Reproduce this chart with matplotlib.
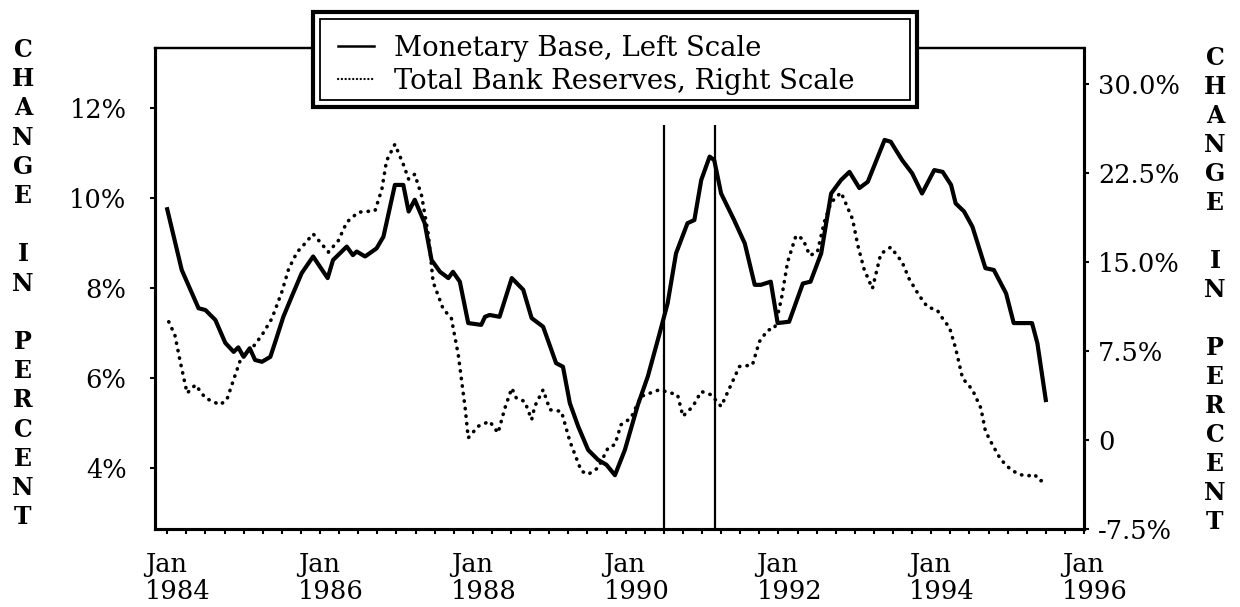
import matplotlib
matplotlib.use("Agg")
import matplotlib.pyplot as plt
from matplotlib.lines import Line2D
from matplotlib.patches import Rectangle
from matplotlib.transforms import ScaledTranslation

# Monetary base, % change (left scale)
base_t = [1984.00, 1984.19, 1984.41, 1984.50, 1984.63, 1984.76, 1984.87, 1984.93, 1985.00, 1985.08,
          1985.15, 1985.24, 1985.35, 1985.41, 1985.52, 1985.63, 1985.76, 1985.91, 1986.00, 1986.10,
          1986.17, 1986.35, 1986.43, 1986.48, 1986.59, 1986.74, 1986.83, 1986.98, 1987.09, 1987.16,
          1987.24, 1987.37, 1987.46, 1987.57, 1987.68, 1987.74, 1987.83, 1987.94, 1988.11, 1988.16,
          1988.22, 1988.35, 1988.51, 1988.66, 1988.77, 1988.92, 1989.09, 1989.18, 1989.27, 1989.38,
          1989.51, 1989.64, 1989.75, 1989.86, 1989.99, 1990.16, 1990.29, 1990.44, 1990.55, 1990.66,
          1990.81, 1990.90, 1990.99, 1991.10, 1991.16, 1991.25, 1991.42, 1991.56, 1991.69, 1991.77,
          1991.90, 1991.99, 1992.14, 1992.21, 1992.32, 1992.42, 1992.56, 1992.69, 1992.82, 1992.93,
          1993.06, 1993.17, 1993.39, 1993.47, 1993.62, 1993.75, 1993.88, 1994.04, 1994.15, 1994.26,
          1994.32, 1994.43, 1994.54, 1994.71, 1994.82, 1994.98, 1995.08, 1995.32, 1995.39, 1995.50]
base_v = [9.75, 8.40, 7.55, 7.51, 7.29, 6.78, 6.58, 6.68, 6.47, 6.66,
          6.40, 6.36, 6.47, 6.78, 7.36, 7.81, 8.33, 8.70, 8.47, 8.22,
          8.62, 8.92, 8.73, 8.81, 8.70, 8.88, 9.14, 10.29, 10.29, 9.70,
          9.96, 9.44, 8.62, 8.36, 8.22, 8.36, 8.14, 7.22, 7.18, 7.36,
          7.40, 7.36, 8.22, 7.96, 7.33, 7.14, 6.33, 6.25, 5.44, 4.92,
          4.40, 4.18, 4.07, 3.84, 4.40, 5.40, 6.03, 6.96, 7.66, 8.77,
          9.44, 9.51, 10.40, 10.92, 10.84, 10.10, 9.51, 8.99, 8.07, 8.07,
          8.14, 7.22, 7.25, 7.58, 8.10, 8.14, 8.77, 10.10, 10.40, 10.58,
          10.22, 10.36, 11.29, 11.25, 10.84, 10.55, 10.10, 10.62, 10.58, 10.29,
          9.88, 9.70, 9.36, 8.44, 8.40, 7.88, 7.22, 7.22, 6.77, 5.51]

# Total bank reserves, % change (right scale)
res_t = [1984.02, 1984.10, 1984.17, 1984.26, 1984.37, 1984.50, 1984.69, 1984.78, 1984.89, 1984.98,
         1985.11, 1985.24, 1985.37, 1985.50, 1985.59, 1985.70, 1985.78, 1985.91, 1986.02, 1986.11,
         1986.24, 1986.35, 1986.50, 1986.72, 1986.81, 1986.87, 1986.98, 1987.09, 1987.16, 1987.24,
         1987.33, 1987.42, 1987.48, 1987.61, 1987.72, 1987.81, 1987.90, 1987.94, 1988.07, 1988.22,
         1988.33, 1988.42, 1988.51, 1988.57, 1988.68, 1988.77, 1988.81, 1988.92, 1989.01, 1989.16,
         1989.27, 1989.42, 1989.51, 1989.64, 1989.77, 1989.86, 1989.94, 1990.07, 1990.20, 1990.44,
         1990.60, 1990.68, 1990.75, 1990.88, 1990.99, 1991.12, 1991.25, 1991.36, 1991.49, 1991.66,
         1991.75, 1991.86, 1991.95, 1992.04, 1992.12, 1992.23, 1992.32, 1992.41, 1992.51, 1992.60,
         1992.69, 1992.82, 1992.97, 1993.04, 1993.12, 1993.23, 1993.34, 1993.47, 1993.62, 1993.71,
         1993.84, 1993.95, 1994.08, 1994.15, 1994.24, 1994.32, 1994.41, 1994.54, 1994.65, 1994.71,
         1994.80, 1994.91, 1995.04, 1995.15, 1995.26, 1995.35, 1995.43, 1995.52]
res_v = [9.95, 8.83, 6.60, 3.94, 4.64, 3.52, 2.96, 3.38, 5.47, 7.15,
         7.71, 8.83, 10.22, 12.46, 14.41, 15.81, 16.37, 17.35, 16.51, 15.81,
         16.79, 18.33, 19.17, 19.30, 21.12, 23.49, 24.89, 23.21, 21.96, 22.37,
         20.56, 17.20, 13.30, 11.06, 10.22, 7.15, 2.68, 0.17, 1.15, 1.57,
         0.59, 2.68, 4.36, 3.52, 3.24, 1.70, 2.82, 4.22, 2.54, 2.40,
         -0.11, -2.62, -2.90, -2.35, -0.67, -0.39, 1.28, 1.84, 3.66, 4.22,
         3.94, 3.80, 1.99, 2.82, 4.08, 3.80, 2.82, 4.36, 6.18, 6.31,
         8.27, 9.24, 9.39, 11.90, 14.97, 17.20, 16.93, 15.53, 15.81, 18.33,
         20.00, 20.84, 18.60, 16.37, 14.41, 12.74, 15.67, 16.23, 14.97, 13.58,
         12.18, 11.20, 10.92, 10.22, 9.45, 7.71, 5.20, 4.22, 2.68, 0.73,
         -0.39, -1.65, -2.49, -2.90, -3.04, -2.90, -3.46, -3.18]

left_ticks = [4, 6, 8, 10, 12]
left_labels = ['4%', '6%', '8%', '10%', '12%']
right_ticks = [-7.5, 0, 7.5, 15, 22.5, 30]
right_labels = ['-7.5%', '0', '7.5%', '15.0%', '22.5%', '30.0%']
year_ticks = [1984, 1986, 1988, 1990, 1992, 1994, 1996]
year_labels = ['Jan\n1984', 'Jan\n1986', 'Jan\n1988', 'Jan\n1990', 'Jan\n1992', 'Jan\n1994', 'Jan\n1996']
quarter_ticks = [1984 + 0.25 * i for i in range(49)]
recession = [1990.5, 1991.17]
side_text = 'CHANGE IN PERCENT'
legend_labels = ['Monetary Base, Left Scale', 'Total Bank Reserves, Right Scale']

plt.rcParams['font.family'] = 'DejaVu Serif'
W, H = 1240, 607
fs = 18.5

fig = plt.figure(figsize=(W / 100, H / 100), dpi=100)
ax = fig.add_axes([155 / W, 1 - 529 / H, (1084 - 155) / W, (529 - 48) / H])
ax2 = ax.twinx()

ax.plot(base_t, base_v, color='black', lw=3.0, solid_joinstyle='round')
ax2.plot(res_t, res_v, color='black', lw=2.6, linestyle=(0, (0.1, 2.0)),
         dash_capstyle='round')

ax.set_xlim(1983.84, 1996.0)
ax.set_ylim(2.644, 13.333)
ax2.set_ylim(-7.45, 33.0)
ax.vlines(recession, 2.644, 11.62, color='black', lw=1.6)

ax.set_xticks(year_ticks)
ax.set_xticklabels(year_labels, ha='left', multialignment='left', linespacing=1.1)
ax.set_xticks(quarter_ticks, minor=True)
ax.set_yticks(left_ticks)
ax.set_yticklabels(left_labels)
ax2.set_yticks(right_ticks)
ax2.set_yticklabels(right_labels)

ax.tick_params(axis='x', which='both', length=3.5, width=1.5, labelsize=fs, pad=13)
ax.tick_params(axis='y', length=3.5, width=1.5, labelsize=fs, pad=17)
ax2.tick_params(axis='y', length=3.5, width=1.5, labelsize=fs, pad=6.5)

shift = ScaledTranslation(-22 / 100, 0, fig.dpi_scale_trans)
for lbl in ax.get_xticklabels():
    lbl.set_transform(lbl.get_transform() + shift)

for a in (ax, ax2):
    for side in ('left', 'right', 'bottom'):
        a.spines[side].set_linewidth(2.2)
    a.spines['top'].set_linewidth(1.6)

# stacked letters on both sides
for i, ch in enumerate(side_text):
    if ch == ' ':
        continue
    fig.text(23 / W, 1 - (50 + i * 29.2) / H, ch, ha='center', va='center',
             fontsize=17, fontweight='bold')
    fig.text(1215 / W, 1 - (58 + i * 29.0) / H, ch, ha='center', va='center',
             fontsize=17, fontweight='bold')

# double-ruled legend box
fig.add_artist(Rectangle((313 / W, 1 - 107 / H), (917 - 313) / W, (107 - 12) / H,
                         transform=fig.transFigure, facecolor='white', edgecolor='black',
                         lw=3, zorder=3))
fig.add_artist(Rectangle((320 / W, 1 - 100 / H), (910 - 320) / W, (100 - 19) / H,
                         transform=fig.transFigure, fill=False, edgecolor='black',
                         lw=1.3, zorder=4))
handles = [Line2D([], [], color='black', lw=1.8),
           Line2D([], [], color='black', lw=1.6, linestyle=(0, (0.1, 1.6)),
                  dash_capstyle='round')]
leg = fig.legend(handles, legend_labels, loc='upper left',
                 bbox_to_anchor=(338 / W, 1 - 35 / H), frameon=False, fontsize=19.8,
                 handlelength=1.3, handletextpad=0.72, labelspacing=0.22,
                 borderpad=0, borderaxespad=0)
leg.set_zorder(5)

fig.savefig('out.png', dpi=100)
